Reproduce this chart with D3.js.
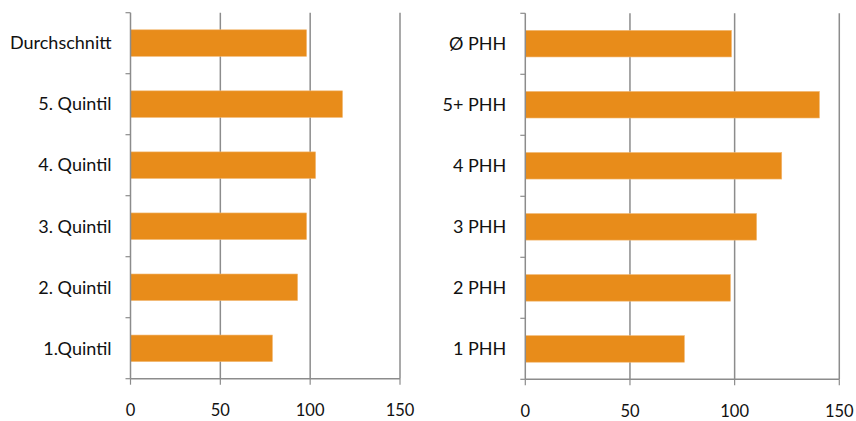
<!DOCTYPE html>
<html>
<head>
<meta charset="utf-8">
<script src="https://cdn.jsdelivr.net/npm/d3@7"></script>
<style>
  html, body { margin: 0; padding: 0; background: #fff; }
  svg { display: block; }
  text { font-family: Lato, "Open Sans", sans-serif; fill: #111; }
</style>
</head>
<body>
<svg id="chart" width="856" height="421"></svg>
<script>
// Left panel: income quintiles
const quintilCategories = ["Durchschnitt", "5. Quintil", "4. Quintil", "3. Quintil", "2. Quintil", "1.Quintil"];
const quintilValues = [98, 118, 103, 98, 93, 79];

// Right panel: household size (persons per household)
const phhCategories = ["Ø PHH", "5+ PHH", "4 PHH", "3 PHH", "2 PHH", "1 PHH"];
const phhValues = [98.5, 140.5, 122.5, 110.5, 98, 76];

const xTicks = [0, 50, 100, 150];

const barColor = "#E88C1A";
const gridColor = "#8c8c8c";

const svg = d3.select("#chart");

function drawPanel(categories, values, x0, x1, y0, y1) {
  const g = svg.append("g");

  const x = d3.scaleLinear().domain([0, 150]).range([x0, x1]);
  const y = d3.scaleBand().domain(categories).range([y0, y1]).paddingInner(0.565).paddingOuter(0.28);

  // vertical gridlines (excluding zero, drawn by axis)
  g.selectAll(".grid").data(xTicks.filter(t => t > 0)).join("line")
    .attr("x1", d => x(d)).attr("x2", d => x(d))
    .attr("y1", y0).attr("y2", y1)
    .attr("stroke", gridColor).attr("stroke-width", 1.5);

  // bars
  g.selectAll(".bar").data(values).join("rect")
    .attr("x", x(0))
    .attr("y", (d, i) => y(categories[i]))
    .attr("width", d => x(d) - x(0))
    .attr("height", y.bandwidth())
    .attr("fill", barColor)
    .attr("stroke", "#f2b872")
    .attr("stroke-width", 0.6);

  // category axis: line with tick marks on band boundaries
  const step = (y1 - y0) / categories.length;
  g.append("line")
    .attr("x1", x(0)).attr("x2", x(0)).attr("y1", y0).attr("y2", y1)
    .attr("stroke", gridColor).attr("stroke-width", 1.5);
  g.selectAll(".ytick").data(d3.range(categories.length + 1)).join("line")
    .attr("x1", x(0) - 5).attr("x2", x(0))
    .attr("y1", d => y0 + d * step).attr("y2", d => y0 + d * step)
    .attr("stroke", gridColor).attr("stroke-width", 1.2);
  g.selectAll(".ylabel").data(categories).join("text")
    .attr("x", x(0) - 19)
    .attr("y", d => y(d) + y.bandwidth() / 2)
    .attr("dy", "0.35em")
    .attr("text-anchor", "end")
    .attr("font-size", 18)
    .text(d => d);

  // value axis along the bottom
  g.append("line")
    .attr("x1", x(0)).attr("x2", x(150)).attr("y1", y1).attr("y2", y1)
    .attr("stroke", gridColor).attr("stroke-width", 1.5);
  g.selectAll(".xtick").data(xTicks).join("line")
    .attr("x1", d => x(d)).attr("x2", d => x(d))
    .attr("y1", y1).attr("y2", y1 + 6)
    .attr("stroke", gridColor).attr("stroke-width", 1.2);
  g.selectAll(".xlabel").data(xTicks).join("text")
    .attr("x", d => x(d))
    .attr("y", y1 + 37.5)
    .attr("text-anchor", "middle")
    .attr("font-size", 16.5)
    .text(d => d);
}

drawPanel(quintilCategories, quintilValues, 130.5, 400, 12.7, 378.7);
drawPanel(phhCategories, phhValues, 525.3, 839.3, 13.3, 379.3);
</script>
</body>
</html>
